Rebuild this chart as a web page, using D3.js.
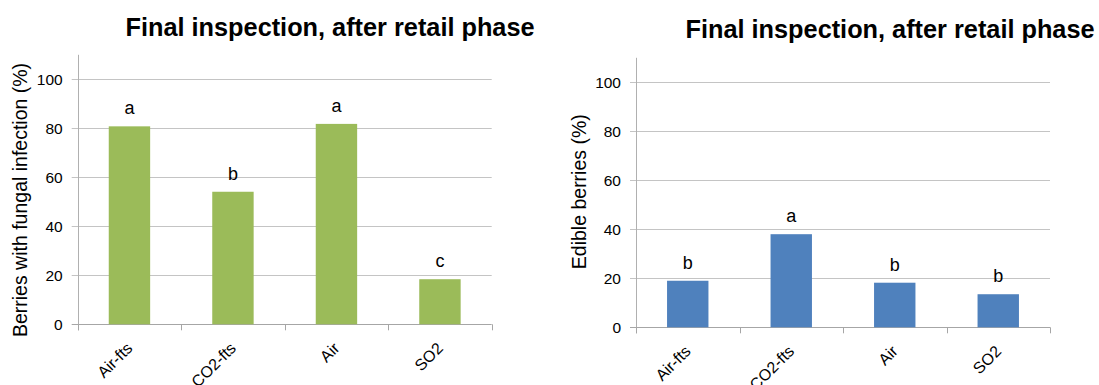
<!DOCTYPE html>
<html>
<head>
<meta charset="utf-8">
<script src="https://cdn.jsdelivr.net/npm/d3@7"></script>
<style>
  html, body { margin: 0; padding: 0; background: #fff; }
  svg { display: block; font-family: "Liberation Sans", Arial, sans-serif; }
</style>
</head>
<body>
<svg id="chart" width="1099" height="385"></svg>
<script>
const categories = ["Air-fts", "CO2-fts", "Air", "SO2"];
const infectionValues = [80.8, 54.1, 81.8, 18.4];
const infectionLetters = ["a", "b", "a", "c"];
const edibleValues = [19.0, 38.0, 18.2, 13.5];
const edibleLetters = ["b", "a", "b", "b"];
const yTickValues = [0, 20, 40, 60, 80, 100];
const titleText = "Final inspection, after retail phase";
const leftYLabel = "Berries with fungal infection (%)";
const rightYLabel = "Edible berries (%)";

const svg = d3.select("#chart");

function panel(cfg) {
  const g = svg.append("g");
  const x = d3.scaleBand().domain(categories).range([cfg.x0, cfg.x1]).paddingInner(0.6).paddingOuter(0.3);
  const y = d3.scaleLinear().domain([0, 110]).range([cfg.yBottom, cfg.yTop]);

  // gridlines
  g.selectAll(".grid").data(yTickValues).join("line")
    .attr("x1", cfg.x0 - 6).attr("x2", cfg.x1)
    .attr("y1", d => Math.round(y(d)) + 0.5).attr("y2", d => Math.round(y(d)) + 0.5)
    .attr("stroke", d => d === 0 ? "#a6a6a6" : "#c4c4c4").attr("stroke-width", 1);

  // y axis line
  g.append("line")
    .attr("x1", Math.round(cfg.x0) + 0.5).attr("x2", Math.round(cfg.x0) + 0.5)
    .attr("y1", y(110)).attr("y2", y(0) + 6)
    .attr("stroke", "#b0b0b0");

  // x ticks at band boundaries
  const step = x.step();
  const bounds = d3.range(categories.length + 1).map(i => cfg.x0 + i * step);
  g.selectAll(".xt").data(bounds).join("line")
    .attr("x1", d => Math.round(d) + 0.5).attr("x2", d => Math.round(d) + 0.5)
    .attr("y1", y(0)).attr("y2", y(0) + 6)
    .attr("stroke", "#a6a6a6");

  // y tick labels
  g.selectAll(".yl").data(yTickValues).join("text")
    .attr("x", cfg.x0 - 15).attr("y", d => y(d)).attr("dy", "0.36em")
    .attr("text-anchor", "end").attr("font-size", 15.5).attr("fill", "#000")
    .text(d => d);

  // bars
  g.selectAll(".bar").data(cfg.values).join("rect")
    .attr("x", (d, i) => x(categories[i]))
    .attr("width", x.bandwidth())
    .attr("y", d => y(d))
    .attr("height", d => y(0) - y(d))
    .attr("fill", cfg.color);

  // letters
  g.selectAll(".let").data(cfg.letters).join("text")
    .attr("x", (d, i) => x(categories[i]) + x.bandwidth() / 2)
    .attr("y", (d, i) => y(cfg.values[i]) - 12)
    .attr("text-anchor", "middle").attr("font-size", 18).attr("fill", "#000")
    .text(d => d);

  // x labels rotated
  g.selectAll(".xl").data(categories).join("text")
    .attr("transform", d => `translate(${x(d) + x.bandwidth() / 2 + 4},${y(0) + 25}) rotate(-45)`)
    .attr("text-anchor", "end").attr("font-size", 16).attr("fill", "#000")
    .text(d => d);

  // y label
  g.append("text")
    .attr("transform", `translate(${cfg.labelX},${cfg.labelY}) rotate(-90)`)
    .attr("text-anchor", "middle").attr("font-size", 19.5).attr("fill", "#000")
    .text(cfg.yLabel);

  // title
  g.append("text")
    .attr("x", cfg.titleX).attr("y", cfg.titleY)
    .attr("font-size", 25.3).attr("font-weight", "bold").attr("fill", "#000")
    .text(titleText);
}

panel({
  x0: 77.7, x1: 491.7, yBottom: 324.3, yTop: 54.8,
  values: infectionValues, letters: infectionLetters, color: "#9BBB59",
  yLabel: leftYLabel, labelX: 27, labelY: 200,
  titleX: 125.5, titleY: 35.5
});

panel({
  x0: 636, x1: 1050, yBottom: 327.3, yTop: 57.8,
  values: edibleValues, letters: edibleLetters, color: "#4F81BD",
  yLabel: rightYLabel, labelX: 586, labelY: 191.7,
  titleX: 685.5, titleY: 37.5
});
</script>
</body>
</html>
